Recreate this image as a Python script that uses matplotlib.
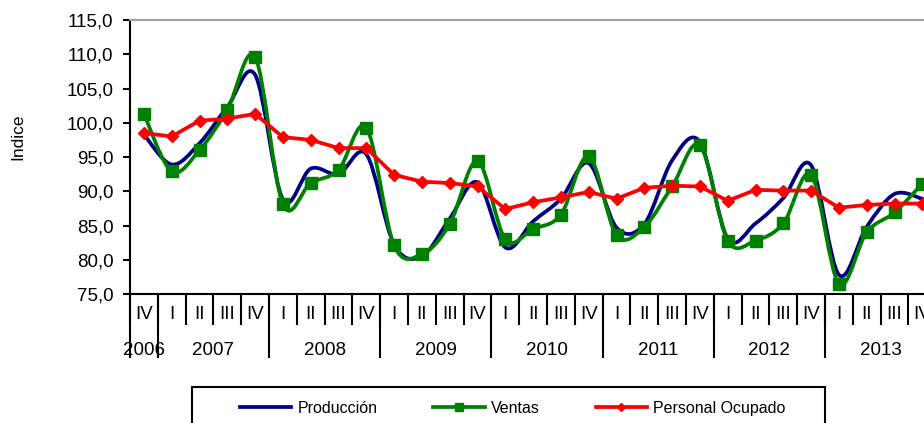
import matplotlib
matplotlib.use("Agg")
import matplotlib.pyplot as plt
from matplotlib.path import Path
from matplotlib.patches import PathPatch, Rectangle
from matplotlib.lines import Line2D
import numpy as np

plt.rcParams['font.family'] = ['Liberation Sans', 'DejaVu Sans']

# ---- data ----
quarters = ["IV",
            "I", "II", "III", "IV",
            "I", "II", "III", "IV",
            "I", "II", "III", "IV",
            "I", "II", "III", "IV",
            "I", "II", "III", "IV",
            "I", "II", "III", "IV",
            "I", "II", "III", "IV"]
years = ["2006", "2007", "2008", "2009", "2010", "2011", "2012", "2013"]
quarters_per_year = [1, 4, 4, 4, 4, 4, 4, 4]

produccion = [98.3, 93.9, 97.0, 102.3, 107.0, 88.8, 93.3, 92.5, 95.4,
              82.2, 80.5, 86.0, 91.3, 81.8, 85.6, 88.9, 94.1,
              84.7, 85.2, 94.5, 97.2, 83.1, 85.3, 89.0, 93.8,
              77.8, 84.8, 89.6, 88.9]
ventas = [101.3, 92.9, 96.0, 101.9, 109.6, 88.1, 91.2, 93.1, 99.3,
          82.1, 80.8, 85.2, 94.4, 83.0, 84.5, 86.6, 95.1,
          83.6, 84.8, 90.7, 96.7, 82.8, 82.8, 85.3, 92.4,
          76.5, 84.0, 86.9, 91.1]
personal = [98.5, 98.0, 100.3, 100.6, 101.3, 97.9, 97.5, 96.3, 96.3,
            92.4, 91.4, 91.2, 90.7, 87.4, 88.4, 89.1, 89.9,
            88.9, 90.5, 90.8, 90.7, 88.6, 90.2, 90.1, 90.1,
            87.6, 88.0, 88.2, 88.2]

series_names = ["Producción", "Ventas", "Personal Ocupado"]
colors = ["#000080", "#008000", "#FF0000"]

# ---- figure ----
W, H = 924, 423
fig = plt.figure(figsize=(W / 100, H / 100), dpi=100)
ax_left, ax_top, ax_bot = 130, 20, 294
cat_w = 27.8
n = len(quarters)
ax = fig.add_axes([ax_left / W, 1 - ax_bot / H, n * cat_w / W, (ax_bot - ax_top) / H])

x = np.arange(n) + 0.5


def smooth_path(xs, ys):
    pts = np.column_stack([xs, ys])
    verts = [pts[0]]
    codes = [Path.MOVETO]
    m = len(pts)
    for i in range(m - 1):
        p0 = pts[i - 1] if i > 0 else pts[i]
        p1 = pts[i]
        p2 = pts[i + 1]
        p3 = pts[i + 2] if i + 2 < m else pts[i + 1]
        c1 = p1 + (p2 - p0) / 6.0
        c2 = p2 - (p3 - p1) / 6.0
        verts += [c1, c2, p2]
        codes += [Path.CURVE4] * 3
    return Path(verts, codes)


lw = 2.7
ax.add_patch(PathPatch(smooth_path(x, produccion), facecolor='none',
                       edgecolor=colors[0], lw=lw, zorder=3, capstyle='round'))
ax.add_patch(PathPatch(smooth_path(x, ventas), facecolor='none',
                       edgecolor=colors[1], lw=lw, zorder=4, capstyle='round'))
ax.plot(x, ventas, linestyle='none', marker='s', ms=9, color=colors[1], zorder=5)
ax.plot(x, personal, color=colors[2], lw=lw, marker='D', ms=6.5, zorder=6)

ax.set_xlim(0, n)
ax.set_ylim(75, 115)
yt = np.arange(75, 116, 5)
ax.set_yticks(yt)
ax.set_yticklabels([f"{v:.1f}".replace(".", ",") for v in yt], fontsize=13.5)
ax.tick_params(axis='y', direction='out', length=5, width=1.5, pad=7)
ax.set_ylabel("Indice", fontsize=12.5)
ax.yaxis.set_label_coords((18 - ax_left) / (n * cat_w), (ax_bot - 137) / (ax_bot - ax_top))
ax.yaxis.label.set_va('center')

# x ticks: quarter boundaries short, year boundaries long
year_bounds = np.concatenate([[0], np.cumsum(quarters_per_year)])
ax.set_xticks(year_bounds)
ax.set_xticks(np.arange(0, n + 1), minor=True)
ax.xaxis.remove_overlapping_locs = False
ax.tick_params(axis='x', which='major', direction='out', length=46, width=1.5,
               labelbottom=False)
ax.tick_params(axis='x', which='minor', direction='out', length=22.5, width=1.5,
               labelbottom=False)

for i, q in enumerate(quarters):
    ax.annotate(q, xy=(i + 0.5, 0), xycoords=('data', 'axes fraction'),
                xytext=(0, -14.5), textcoords='offset points',
                ha='center', va='center', fontsize=13.5)
for k, yname in enumerate(years):
    c = (year_bounds[k] + year_bounds[k + 1]) / 2
    ax.annotate(yname, xy=(c, 0), xycoords=('data', 'axes fraction'),
                xytext=(0, -41), textcoords='offset points',
                ha='center', va='center', fontsize=13.5)

for s in ['left', 'bottom']:
    ax.spines[s].set_linewidth(1.5)
    ax.spines[s].set_color('black')
ax.spines['top'].set_color('#A0A0A0')
ax.spines['top'].set_linewidth(1.5)
ax.spines['right'].set_visible(False)

# legend
fig.patches.append(Rectangle((192 / W, 1 - 432 / H), (825 - 192) / W, (432 - 387) / H,
                             transform=fig.transFigure, facecolor='white',
                             edgecolor='black', lw=1.5))
handles = [Line2D([], [], color=colors[0], lw=lw),
           Line2D([], [], color=colors[1], lw=lw, marker='s', ms=6),
           Line2D([], [], color=colors[2], lw=lw, marker='D', ms=4.5)]
fig.legend(handles, series_names, loc='center left', ncol=3,
           bbox_to_anchor=(240 / W, 1 - 408 / H), frameon=False, fontsize=11.5,
           handlelength=3.2, handletextpad=0.4, columnspacing=3.5,
           borderpad=0, borderaxespad=0)

fig.savefig("out.png", dpi=100)
